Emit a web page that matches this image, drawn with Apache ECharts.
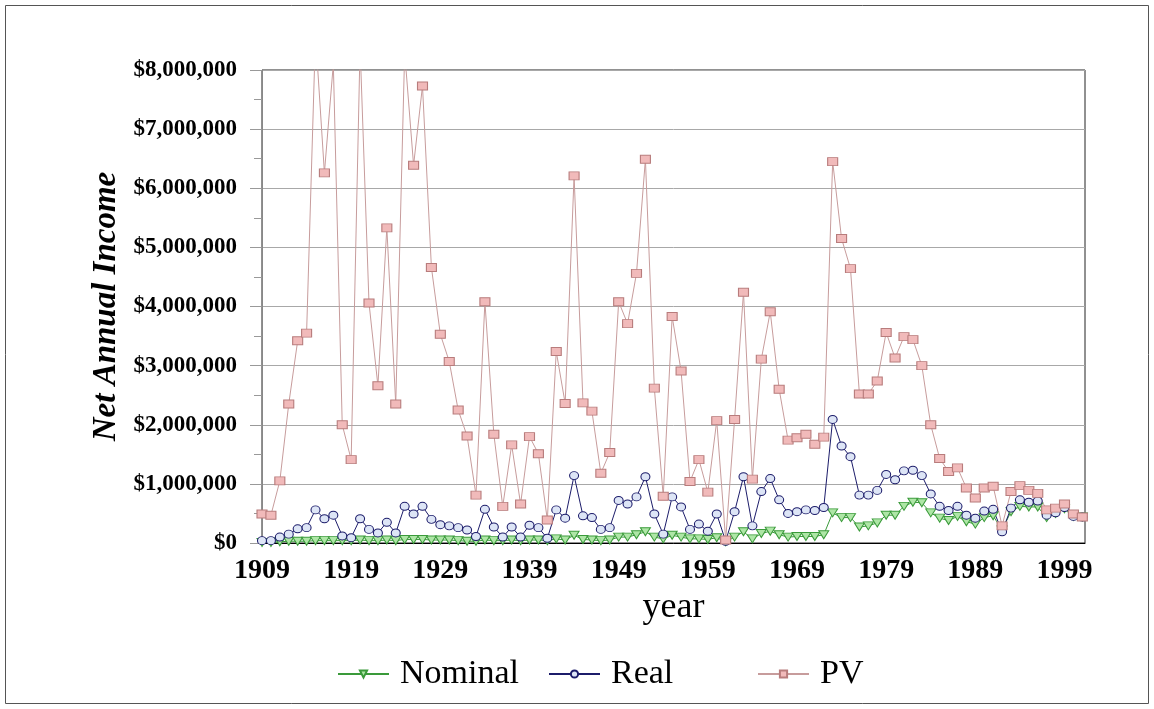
<!DOCTYPE html>
<html>
<head>
<meta charset="utf-8">
<script src="https://cdn.jsdelivr.net/npm/echarts@6/dist/echarts.min.js"></script>
<style>
  html, body { margin: 0; padding: 0; background: #fff; }
  #chart { width: 1154px; height: 709px; }
</style>
</head>
<body>
<div id="chart"></div>
<script>
// years on the x axis
var years = [
  1909, 1910, 1911, 1912, 1913, 1914, 1915, 1916, 1917, 1918,
  1919, 1920, 1921, 1922, 1923, 1924, 1925, 1926, 1927, 1928,
  1929, 1930, 1931, 1932, 1933, 1934, 1935, 1936, 1937, 1938,
  1939, 1940, 1941, 1942, 1943, 1944, 1945, 1946, 1947, 1948,
  1949, 1950, 1951, 1952, 1953, 1954, 1955, 1956, 1957, 1958,
  1959, 1960, 1961, 1962, 1963, 1964, 1965, 1966, 1967, 1968,
  1969, 1970, 1971, 1972, 1973, 1974, 1975, 1976, 1977, 1978,
  1979, 1980, 1981, 1982, 1983, 1984, 1985, 1986, 1987, 1988,
  1989, 1990, 1991, 1992, 1993, 1994, 1995, 1996, 1997, 1998,
  1999, 2000, 2001
];

// values in millions of dollars
var nominal = [
  0.01, 0.01, 0.02, 0.03, 0.03, 0.03, 0.04, 0.04, 0.04, 0.04,
  0.04, 0.05, 0.04, 0.04, 0.05, 0.04, 0.06, 0.06, 0.06, 0.05,
  0.05, 0.05, 0.04, 0.03, 0.03, 0.05, 0.04, 0.04, 0.05, 0.04,
  0.05, 0.05, 0.04, 0.07, 0.05, 0.13, 0.06, 0.05, 0.04, 0.05,
  0.10, 0.10, 0.14, 0.19, 0.10, 0.07, 0.13, 0.10, 0.07, 0.07,
  0.06, 0.09, 0.02, 0.10, 0.19, 0.07, 0.16, 0.20, 0.14, 0.10,
  0.11, 0.11, 0.11, 0.14, 0.51, 0.43, 0.43, 0.27, 0.29, 0.34,
  0.47, 0.47, 0.62, 0.69, 0.68, 0.51, 0.42, 0.38, 0.45, 0.36,
  0.32, 0.43, 0.46, 0.22, 0.53, 0.62, 0.61, 0.61, 0.43, 0.50,
  0.58, 0.45, 0.44
];

var real = [
  0.04, 0.04, 0.10, 0.15, 0.24, 0.26, 0.56, 0.41, 0.47, 0.12,
  0.09, 0.41, 0.23, 0.17, 0.35, 0.17, 0.62, 0.49, 0.62, 0.40,
  0.31, 0.29, 0.26, 0.22, 0.11, 0.57, 0.27, 0.10, 0.27, 0.10,
  0.30, 0.26, 0.08, 0.56, 0.42, 1.14, 0.46, 0.43, 0.23, 0.26,
  0.72, 0.66, 0.78, 1.12, 0.49, 0.15, 0.78, 0.61, 0.23, 0.32,
  0.20, 0.49, 0.03, 0.53, 1.12, 0.29, 0.87, 1.09, 0.73, 0.50,
  0.53, 0.56, 0.55, 0.60, 2.09, 1.64, 1.46, 0.81, 0.81, 0.89,
  1.16, 1.07, 1.22, 1.23, 1.14, 0.83, 0.62, 0.55, 0.62, 0.47,
  0.42, 0.54, 0.57, 0.19, 0.59, 0.73, 0.69, 0.71, 0.47, 0.51,
  0.60, 0.45, 0.44
];

var pv = [
  0.49, 0.47, 1.05, 2.35, 3.42, 3.55, 8.60, 6.26, 8.10, 2.00,
  1.41, 8.40, 4.06, 2.66, 5.33, 2.35, 8.30, 6.39, 7.73, 4.66,
  3.53, 3.07, 2.25, 1.81, 0.81, 4.08, 1.84, 0.62, 1.66, 0.66,
  1.80, 1.51, 0.39, 3.24, 2.36, 6.21, 2.37, 2.23, 1.18, 1.53,
  4.08, 3.71, 4.56, 6.49, 2.62, 0.79, 3.83, 2.91, 1.04, 1.41,
  0.86, 2.07, 0.05, 2.09, 4.24, 1.08, 3.11, 3.91, 2.60, 1.74,
  1.78, 1.84, 1.67, 1.79, 6.45, 5.15, 4.64, 2.52, 2.52, 2.74,
  3.56, 3.13, 3.49, 3.44, 3.00, 2.00, 1.43, 1.21, 1.27, 0.93,
  0.76, 0.93, 0.96, 0.29, 0.87, 0.97, 0.89, 0.84, 0.56, 0.59,
  0.66, 0.49, 0.44
];

var serif = "'Liberation Serif', 'Times New Roman', serif";

function pairs(vals) {
  return years.map(function (y, i) { return [y, vals[i] * 1000000]; });
}

function money(v) {
  return '$' + String(Math.round(v)).replace(/\B(?=(\d{3})+(?!\d))/g, ',');
}

var chart = echarts.init(document.getElementById('chart'));

var legendText = { fontFamily: serif, fontSize: 34, color: '#000', padding: [0, 0, 0, 6] };

var option = {
  backgroundColor: '#fff',
  animation: false,
  graphic: [{
    type: 'rect',
    silent: true,
    z: -1,
    shape: { x: 5.5, y: 5.5, width: 1143, height: 698 },
    style: { fill: null, stroke: '#555', lineWidth: 1 }
  }],
  grid: {
    left: 262, right: 69, top: 70, bottom: 166,
    show: true, borderColor: '#222', borderWidth: 1
  },
  legend: [
    { data: ['Nominal'], left: 332, top: 652, itemWidth: 51, itemHeight: 9, textStyle: legendText },
    { data: ['Real'], left: 543, top: 652, itemWidth: 51, itemHeight: 9, textStyle: legendText },
    { data: ['PV'], left: 752, top: 652, itemWidth: 51, itemHeight: 9, textStyle: legendText }
  ],
  xAxis: {
    type: 'value',
    min: 1909,
    max: 2001.3,
    interval: 10,
    name: 'year',
    nameLocation: 'middle',
    nameGap: 44,
    nameTextStyle: { fontFamily: serif, fontSize: 36, color: '#000' },
    axisLine: { show: true, onZero: false, lineStyle: { color: '#000', width: 1 } },
    axisTick: { show: false },
    splitLine: { show: false },
    axisLabel: {
      showMaxLabel: false,
      margin: 14,
      formatter: function (v) { return String(Math.round(v)); },
      fontFamily: serif, fontSize: 28, fontWeight: 'bold', color: '#000'
    }
  },
  yAxis: {
    type: 'value',
    min: 0,
    max: 8000000,
    interval: 1000000,
    name: 'Net Annual Income',
    nameLocation: 'middle',
    nameGap: 131,
    nameTextStyle: { fontFamily: serif, fontSize: 33, fontWeight: 'bold', fontStyle: 'italic', color: '#000' },
    axisLine: { show: true, lineStyle: { color: '#888', width: 1 } },
    axisTick: { show: true, length: 12, lineStyle: { color: '#999' } },
    minorTick: { show: true, splitNumber: 2, length: 8, lineStyle: { color: '#999' } },
    splitLine: { show: true, lineStyle: { color: '#a8a8a8', width: 1 } },
    axisLabel: {
      margin: 25,
      formatter: money,
      fontFamily: serif, fontSize: 23, fontWeight: 'bold', color: '#000'
    }
  },
  series: [
    {
      name: 'Nominal',
      type: 'line',
      data: pairs(nominal),
      symbol: 'triangle',
      symbolRotate: 180,
      symbolSize: [10, 8],
      showAllSymbol: true,
      lineStyle: { color: '#3a9a3a', width: 1 },
      itemStyle: { color: '#aee6a6', borderColor: '#3a9a3a', borderWidth: 1 }
    },
    {
      name: 'Real',
      type: 'line',
      data: pairs(real),
      symbol: 'circle',
      symbolSize: [9, 8],
      showAllSymbol: true,
      lineStyle: { color: '#1c1c6a', width: 1 },
      itemStyle: { color: '#dde5f6', borderColor: '#1c1c6a', borderWidth: 1 }
    },
    {
      name: 'PV',
      type: 'line',
      data: pairs(pv),
      symbol: 'rect',
      symbolSize: [10, 8],
      showAllSymbol: true,
      lineStyle: { color: '#c79c9c', width: 1 },
      itemStyle: { color: '#f1baba', borderColor: '#b87c7c', borderWidth: 1 }
    }
  ]
};

chart.setOption(option);
</script>
</body>
</html>
